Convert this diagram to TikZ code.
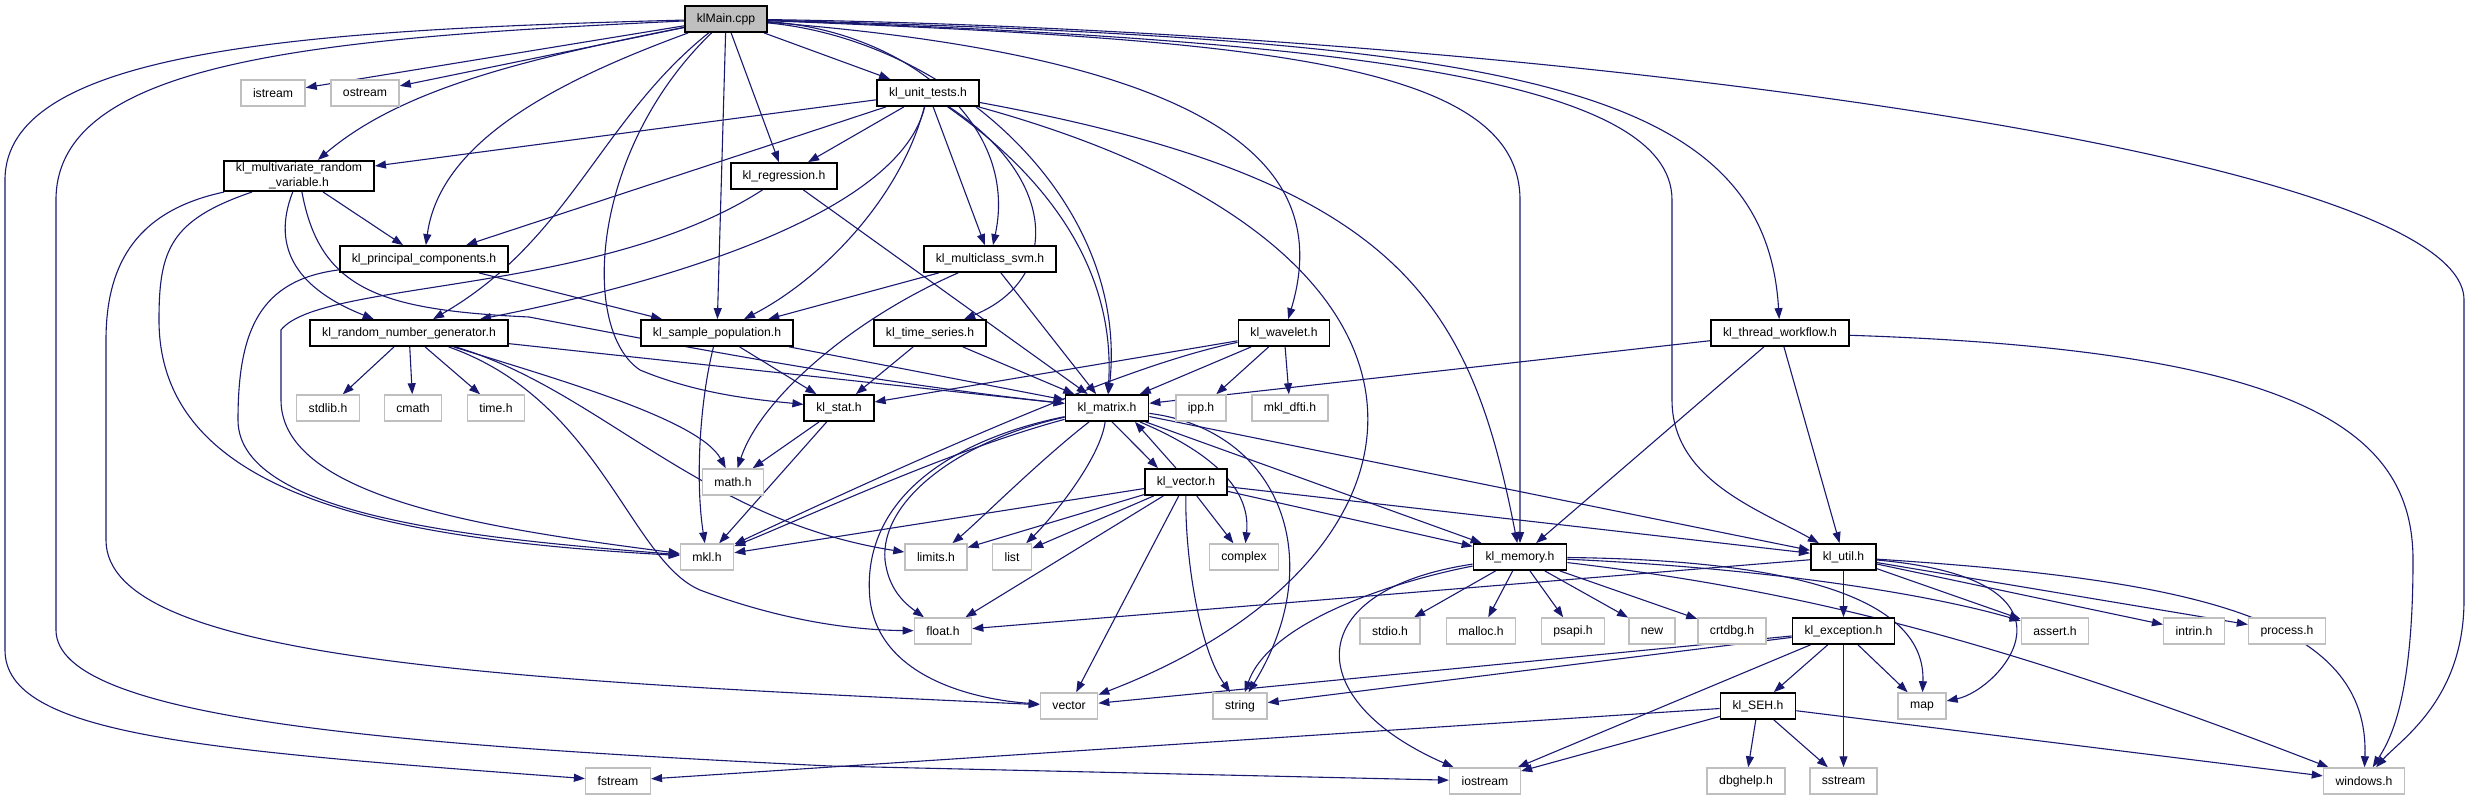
\documentclass[tikz,border=0pt]{standalone}
\usepackage{fontspec}
\setmainfont{Liberation Sans}
\usetikzlibrary{positioning,arrows.meta,calc}
\pgfdeclarelayer{edges}
\pgfsetlayers{edges,main}

\begin{document}
\begin{tikzpicture}[
    x=1pt, y=-1pt,
    box/.style={rectangle, minimum height=26pt, inner xsep=12pt, inner ysep=2pt, align=center,
        font=\fontsize{12.2}{15}\selectfont},
    proj/.style={box, draw=black, line width=1.8pt, fill=white},
    sys/.style={box, draw=black!25, line width=1.5pt, fill=white},
    edge/.style={-{Triangle[length=11pt,width=8pt]}, draw=dnavy, line width=1.1pt}
]
\definecolor{dnavy}{RGB}{25,25,112}
\useasboundingbox (0,0) rectangle (2478,800);

% nodes, placed like the dot layout
\node[proj, fill=black!25] (klmain) at (726,19) {klMain.cpp};
\node[sys] (istream) at (273,93) {istream};
\node[sys] (ostream) at (365,93) {ostream};
\node[proj] (unittests) at (928,93) {kl\_unit\_tests.h};
\node[proj] (multivar) at (299,176) {kl\_multivariate\_random\\\_variable.h};
\node[proj] (regression) at (784,176) {kl\_regression.h};
\node[proj] (principal) at (424,259) {kl\_principal\_components.h};
\node[proj] (multisvm) at (990,259) {kl\_multiclass\_svm.h};
\node[proj] (randgen) at (409,333) {kl\_random\_number\_generator.h};
\node[proj] (samplepop) at (717,333) {kl\_sample\_population.h};
\node[proj] (timeseries) at (930,333) {kl\_time\_series.h};
\node[proj] (wavelet) at (1284,333) {kl\_wavelet.h};
\node[proj] (threadwf) at (1780,333) {kl\_thread\_workflow.h};
\node[sys] (stdlib) at (328,408) {stdlib.h};
\node[sys] (cmath) at (413,408) {cmath};
\node[sys] (timeh) at (496,408) {time.h};
\node[proj] (stat) at (839,408) {kl\_stat.h};
\node[proj] (matrix) at (1107,408) {kl\_matrix.h};
\node[sys] (ipp) at (1201,408) {ipp.h};
\node[sys] (mkldfti) at (1290,408) {mkl\_dfti.h};
\node[sys] (mathh) at (733,482) {math.h};
\node[proj] (vecth) at (1186,482) {kl\_vector.h};
\node[sys] (mklh) at (707,557) {mkl.h};
\node[sys] (limits) at (936,557) {limits.h};
\node[sys] (list) at (1012,557) {list};
\node[sys] (complex) at (1244,557) {complex};
\node[proj] (memory) at (1520,557) {kl\_memory.h};
\node[proj] (util) at (1843.5,557) {kl\_util.h};
\node[sys] (floath) at (943,631) {float.h};
\node[sys] (stdio) at (1390,631) {stdio.h};
\node[sys] (malloc) at (1481,631) {malloc.h};
\node[sys] (psapi) at (1573,631) {psapi.h};
\node[sys] (new) at (1652,631) {new};
\node[sys] (crtdbg) at (1732,631) {crtdbg.h};
\node[proj] (exception) at (1843.5,631) {kl\_exception.h};
\node[sys] (asserth) at (2055,631) {assert.h};
\node[sys] (intrin) at (2194,631) {intrin.h};
\node[sys] (process) at (2287,631) {process.h};
\node[sys] (vector) at (1069,706) {vector};
\node[sys] (string) at (1240,706) {string};
\node[proj] (seh) at (1758,706) {kl\_SEH.h};
\node[sys] (map) at (1922,706) {map};
\node[sys] (fstream) at (618,781) {fstream};
\node[sys] (iostream) at (1485,781) {iostream};
\node[sys] (dbghelp) at (1746,781) {dbghelp.h};
\node[sys] (sstream) at (1843.5,781) {sstream};
\node[sys] (windows) at (2364,781) {windows.h};

\begin{pgfonlayer}{edges}
% klMain.cpp
\draw[edge] (klmain) .. controls (300,30) and (5,50) .. (5,180) -- (5,650) .. controls (5,735) and (200,750) .. (fstream);
\draw[edge] (klmain) .. controls (320,38) and (56,60) .. (56,200) -- (56,630) .. controls (56,720) and (400,745) .. (830,766) -- (iostream);
\draw[edge] (klmain) -- (istream);
\draw[edge] (klmain) -- (ostream);
\draw[edge] (klmain) .. controls (520,60) and (400,90) .. (multivar);
\draw[edge] (klmain) .. controls (560,80) and (440,140) .. (principal);
\draw[edge] (klmain) .. controls (600,120) and (570,240) .. (randgen);
\draw[edge] (klmain) .. controls (590,150) and (580,330) .. (640,370) .. controls (700,395) and (760,400) .. (stat);
\draw[edge] (klmain) -- (samplepop);
\draw[edge] (klmain) -- (regression);
\draw[edge] (klmain) -- (unittests);
\draw[edge] (klmain) .. controls (900,30) and (1020,120) .. (multisvm);
\draw[edge] (klmain) .. controls (950,40) and (1130,200) .. (matrix);
\draw[edge] (klmain) .. controls (1250,60) and (1330,180) .. (wavelet);
\draw[edge] (klmain) .. controls (1250,40) and (1520,60) .. (1520,200) -- (memory);
\draw[edge] (klmain) .. controls (1350,40) and (1672,80) .. (1672,200) -- (1672,400) .. controls (1672,480) and (1760,510) .. (util);
\draw[edge] (klmain) .. controls (1500,40) and (1765,80) .. (threadwf);
\draw[edge] (klmain) .. controls (1500,30) and (2464,150) .. (2464,300) -- (2464,600) .. controls (2464,700) and (2400,740) .. (windows);

% kl_unit_tests.h
\draw[edge] (unittests) -- (multivar);
\draw[edge] (unittests) -- (principal);
\draw[edge] (unittests) -- (regression);
\draw[edge] (unittests) .. controls (900,210) and (680,280) .. (randgen);
\draw[edge] (unittests) .. controls (900,200) and (820,280) .. (samplepop);
\draw[edge] (unittests) -- (multisvm);
\draw[edge] (unittests) .. controls (1060,180) and (1060,280) .. (timeseries);
\draw[edge] (unittests) .. controls (1080,200) and (1114,300) .. (matrix);
\draw[edge] (unittests) .. controls (1400,180) and (1470,300) .. (memory);
\draw[edge] (unittests) .. controls (1500,250) and (1450,560) .. (vector);

% kl_multivariate_random_variable.h
\draw[edge] (multivar) -- (principal);
\draw[edge] (multivar) .. controls (270,250) and (300,290) .. (randgen);
\draw[edge] (multivar) .. controls (320,290) and (380,310) .. (529,317) .. controls (650,340) and (850,380) .. (matrix);
\draw[edge] (multivar) .. controls (170,220) and (159,250) .. (159,320) .. controls (159,500) and (400,540) .. (mklh);
\draw[edge] (multivar) .. controls (140,210) and (106,260) .. (106,340) -- (106,540) .. controls (106,660) and (500,680) .. (vector);

% kl_principal_components.h, kl_regression.h, kl_multiclass_svm.h
\draw[edge] (principal) -- (samplepop);
\draw[edge] (principal) .. controls (260,280) and (238,330) .. (238,420) .. controls (238,520) and (500,540) .. (mklh);
\draw[edge] (regression) -- (matrix);
\draw[edge] (regression) .. controls (600,295) and (320,280) .. (281,330) -- (281,400) .. controls (281,500) and (500,530) .. (mklh);
\draw[edge] (multisvm) -- (samplepop);
\draw[edge] (multisvm) -- (matrix);
\draw[edge] (multisvm) .. controls (850,320) and (760,400) .. (mathh);

% kl_random_number_generator.h
\draw[edge] (randgen) -- (stdlib);
\draw[edge] (randgen) -- (cmath);
\draw[edge] (randgen) -- (timeh);
\draw[edge] (randgen) .. controls (560,380) and (700,420) .. (mathh);
\draw[edge] (randgen) .. controls (600,400) and (630,560) .. (700,590) .. controls (780,620) and (850,630) .. (floath);
\draw[edge] (randgen) .. controls (600,390) and (700,520) .. (limits);
\draw[edge] (randgen) -- (matrix);

% kl_sample_population.h, kl_time_series.h, kl_stat.h, kl_wavelet.h
\draw[edge] (samplepop) -- (stat);
\draw[edge] (samplepop) -- (matrix);
\draw[edge] (samplepop) .. controls (700,400) and (695,480) .. (mklh);
\draw[edge] (timeseries) -- (stat);
\draw[edge] (timeseries) -- (matrix);
\draw[edge] (stat) -- (mathh);
\draw[edge] (stat) -- (mklh);
\draw[edge] (wavelet) -- (stat);
\draw[edge] (wavelet) -- (matrix);
\draw[edge] (wavelet) -- (ipp);
\draw[edge] (wavelet) -- (mkldfti);
\draw[edge] (wavelet) .. controls (1150,360) and (1000,420) .. (mklh);

% kl_thread_workflow.h
\draw[edge] (threadwf) -- (matrix);
\draw[edge] (threadwf) -- (memory);
\draw[edge] (threadwf) -- (util);
\draw[edge] (threadwf) .. controls (2300,350) and (2413,430) .. (2413,560) .. controls (2413,700) and (2390,740) .. (windows);

% kl_matrix.h
\draw[edge] ([xshift=5]matrix.south) -- ([xshift=-28]vecth.north);
\draw[edge] (matrix) .. controls (950,450) and (800,520) .. (mklh);
\draw[edge] (matrix) .. controls (1040,460) and (980,520) .. (limits);
\draw[edge] (matrix) .. controls (1100,460) and (1050,520) .. (list);
\draw[edge] (matrix) .. controls (960,440) and (880,500) .. (885,560) .. controls (888,585) and (900,600) .. (floath);
\draw[edge] (matrix) .. controls (950,440) and (860,500) .. (870,600) .. controls (880,680) and (980,700) .. (vector);
\draw[edge] (matrix) .. controls (1230,460) and (1250,500) .. (complex);
\draw[edge] (matrix) .. controls (1280,430) and (1330,560) .. (string);
\draw[edge] (matrix) -- (memory);
\draw[edge] (matrix) -- (util);

% kl_vector.h
\draw[edge] ([xshift=-10]vecth.north) -- ([xshift=28]matrix.south);
\draw[edge] (vecth) -- (mklh);
\draw[edge] (vecth) -- (limits);
\draw[edge] (vecth) -- (list);
\draw[edge] (vecth) -- (floath);
\draw[edge] (vecth) -- (vector);
\draw[edge] (vecth) .. controls (1185,560) and (1200,650) .. (string);
\draw[edge] (vecth) -- (complex);
\draw[edge] (vecth) -- (memory);
\draw[edge] (vecth) -- (util);

% kl_memory.h
\draw[edge] (memory) -- (stdio);
\draw[edge] (memory) -- (malloc);
\draw[edge] (memory) -- (psapi);
\draw[edge] (memory) -- (new);
\draw[edge] (memory) -- (crtdbg);
\draw[edge] (memory) .. controls (1400,580) and (1270,620) .. (string);
\draw[edge] (memory) .. controls (1300,590) and (1300,700) .. (iostream);
\draw[edge] (memory) .. controls (1800,590) and (2000,640) .. (windows);
\draw[edge] (memory) .. controls (1800,570) and (1950,600) .. (asserth);
\draw[edge] (memory) .. controls (1800,560) and (1926,600) .. (map);

% kl_util.h
\draw[edge] (util) -- (floath);
\draw[edge] (util) -- (exception);
\draw[edge] (util) -- (asserth);
\draw[edge] (util) -- (intrin);
\draw[edge] (util) -- (process);
\draw[edge] (util) .. controls (2200,580) and (2370,620) .. (windows);
\draw[edge] (util) .. controls (2100,580) and (2000,690) .. (map);

% kl_exception.h, kl_SEH.h
\draw[edge] (exception) -- (vector);
\draw[edge] (exception) -- (string);
\draw[edge] (exception) -- (iostream);
\draw[edge] (exception) -- (seh);
\draw[edge] (exception) -- (sstream);
\draw[edge] (exception) -- (map);
\draw[edge] (seh) -- (fstream);
\draw[edge] (seh) -- (iostream);
\draw[edge] (seh) -- (dbghelp);
\draw[edge] (seh) -- (sstream);
\draw[edge] (seh) -- (windows);
\end{pgfonlayer}
\end{tikzpicture}
\end{document}
